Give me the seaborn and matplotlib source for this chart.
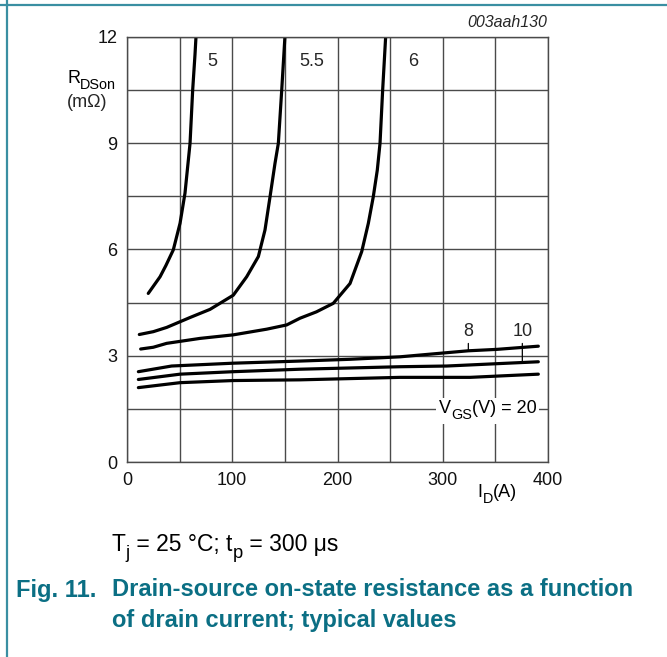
import numpy as np
import pandas as pd
import seaborn as sns
import matplotlib.pyplot as plt
from matplotlib.lines import Line2D
from matplotlib.patches import Rectangle

# curves (I_D in A, R_DSon in mOhm)
id_5 = [20.2, 31.4, 37, 44.0, 50.4, 55.1, 59.9, 62.4, 64.6, 65.6]
r_5 = [4.76, 5.23, 5.55, 5.99, 6.74, 7.59, 9.0, 10.5, 11.5, 12.03]

id_55 = [11.7, 25, 37.7, 59.9, 78.9, 101, 113.7, 124.8, 131.1, 135.9, 140.6, 143.8, 147, 150.1]
r_55 = [3.6, 3.68, 3.8, 4.08, 4.31, 4.71, 5.23, 5.80, 6.55, 7.49, 8.43, 9.0, 10.5, 12.03]

id_6 = [13, 25, 37.7, 69.4, 101, 132.7, 151.7, 164.4, 180, 196, 211.9, 223, 229.3,
        234, 237.8, 240.4, 242.9, 245.8]
r_6 = [3.19, 3.24, 3.35, 3.49, 3.59, 3.75, 3.87, 4.06, 4.24, 4.48, 5.04, 5.94, 6.74,
       7.49, 8.24, 9.0, 10.5, 12.03]

id_8 = [10.8, 42.4, 101, 164.4, 211.9, 259.4, 324.3, 351.3, 390.8]
r_8 = [2.55, 2.71, 2.79, 2.85, 2.90, 2.97, 3.14, 3.18, 3.27]

id_10 = [10.8, 50.4, 101, 164.4, 259.4, 303.8, 390.8]
r_10 = [2.33, 2.48, 2.55, 2.62, 2.69, 2.71, 2.83]

id_20 = [10.8, 50.4, 101, 164.4, 259.4, 326, 390.8]
r_20 = [2.10, 2.24, 2.30, 2.32, 2.39, 2.39, 2.48]

curves = {"5": (id_5, r_5), "5.5": (id_55, r_55), "6": (id_6, r_6),
          "8": (id_8, r_8), "10": (id_10, r_10), "20": (id_20, r_20)}

frames = []
for vgs, (xs, ys) in curves.items():
    frames.append(pd.DataFrame({"ID": xs, "R": ys, "VGS": vgs}))
df = pd.concat(frames, ignore_index=True)

sns.set_style("white")
plt.rcParams['font.family'] = ['Liberation Sans', 'DejaVu Sans']

fig = plt.figure(figsize=(6.67, 6.57), dpi=100)
ax = fig.add_axes([0.1904, 0.2968, 0.6312, 0.6469])

sns.lineplot(data=df, x="ID", y="R", units="VGS", estimator=None, sort=False,
             color="black", linewidth=2.3, ax=ax)

ax.set_xlim(0, 400)
ax.set_ylim(0, 12)
ax.set_xticks([0, 100, 200, 300, 400])
ax.set_xticks([50, 150, 250, 350], minor=True)
ax.set_yticks([0, 3, 6, 9, 12])
ax.set_yticks([1.5, 4.5, 7.5, 10.5], minor=True)
ax.grid(True, which="both", color="#4a4a4a", linewidth=1.0)
ax.set_axisbelow(True)
ax.tick_params(which="both", length=0, labelsize=13, pad=7, colors="#111111")
for s in ax.spines.values():
    s.set_color("#4a4a4a")
    s.set_linewidth(1.0)
ax.set_xlabel("")
ax.set_ylabel("")

renderer = fig.canvas.get_renderer()


def sub_text(x, y, pieces, size, transform, ha="left", color="black", weight="normal"):
    """pieces: list of (text, is_subscript); placed on one baseline at (x, y)."""
    widths = []
    for txt, sub in pieces:
        t = fig.text(0, 0, txt, fontsize=size * (0.8 if sub else 1.0))
        widths.append(t.get_window_extent(renderer).width)
        t.remove()
    px, py = transform.transform((x, y))
    px -= sum(widths) * {"left": 0, "center": 0.5, "right": 1}[ha]
    drop = size * 0.32 * fig.dpi / 72
    arts = []
    for (txt, sub), w in zip(pieces, widths):
        fx, fy = fig.transFigure.inverted().transform((px, py - (drop if sub else 0)))
        arts.append(fig.text(fx, fy, txt, fontsize=size * (0.8 if sub else 1.0), ha="left",
                             va="baseline", color=color, fontweight=weight, zorder=6))
        px += w
    return arts


# curve labels
for txt, x in [("5", 81), ("5.5", 176), ("6", 272)]:
    ax.text(x, 11.3, txt, fontsize=13, ha="center", va="center")
ax.annotate("8", xy=(324.3, 3.15), xytext=(324.3, 3.68), fontsize=13, ha="center", va="center",
            arrowprops=dict(arrowstyle="-", color="black", lw=0.9, shrinkA=0, shrinkB=0))
ax.annotate("10", xy=(375.6, 2.8), xytext=(375.6, 3.68), fontsize=13, ha="center", va="center",
            arrowprops=dict(arrowstyle="-", color="black", lw=0.9, shrinkA=0, shrinkB=0))

vgs_arts = sub_text(389.5, 1.37, [("V", False), ("GS", True), ("(V) = 20", False)], 13,
                    ax.transData, ha="right")
boxes = [a.get_window_extent(renderer) for a in vgs_arts]
x0 = min(b.x0 for b in boxes) - 3
x1 = max(b.x1 for b in boxes) + 2
y0 = min(b.y0 for b in boxes) - 2
y1 = max(b.y1 for b in boxes) + 2
(dx0, dy0), (dx1, dy1) = ax.transData.inverted().transform([(x0, y0), (x1, y1)])
ax.add_patch(Rectangle((dx0, dy0), dx1 - dx0, dy1 - dy0, facecolor="white", edgecolor="none",
                       zorder=3, clip_on=False))

sub_text(352, -0.99, [("I", False), ("D", True), ("(A)", False)], 13, ax.transData, ha="center")
sub_text(-57, 10.69, [("R", False), ("DSon", True)], 13, ax.transData)
ax.text(-57.5, 10.02, "(mΩ)", fontsize=13, ha="left", va="baseline", clip_on=False)
ax.text(399, 12.42, "003aah130", fontsize=11.5, style="italic", ha="right", va="center",
        clip_on=False)

# conditions and caption
sub_text(112 / 667, 1 - 551 / 657,
         [("T", False), ("j", True), (" = 25 °C; t", False), ("p", True), (" = 300 μs", False)],
         16.5, fig.transFigure)
teal = "#0b6f84"
fig.text(16 / 667, 1 - 590 / 657, "Fig. 11.", fontsize=17, fontweight="bold", color=teal,
         ha="left", va="center")
fig.text(112 / 667, 1 - 590 / 657, "Drain-source on-state resistance as a function",
         fontsize=17, fontweight="bold", color=teal, ha="left", va="center")
fig.text(112 / 667, 1 - 621 / 657, "of drain current; typical values",
         fontsize=17, fontweight="bold", color=teal, ha="left", va="center")

frame = "#3a8fa2"
fig.add_artist(Line2D([0, 1], [1 - 4.5 / 657, 1 - 4.5 / 657], color=frame, lw=1.6,
                      transform=fig.transFigure))
fig.add_artist(Line2D([7 / 667, 7 / 667], [0, 1], color=frame, lw=1.6,
                      transform=fig.transFigure))

fig.savefig("out.png", dpi=100)
